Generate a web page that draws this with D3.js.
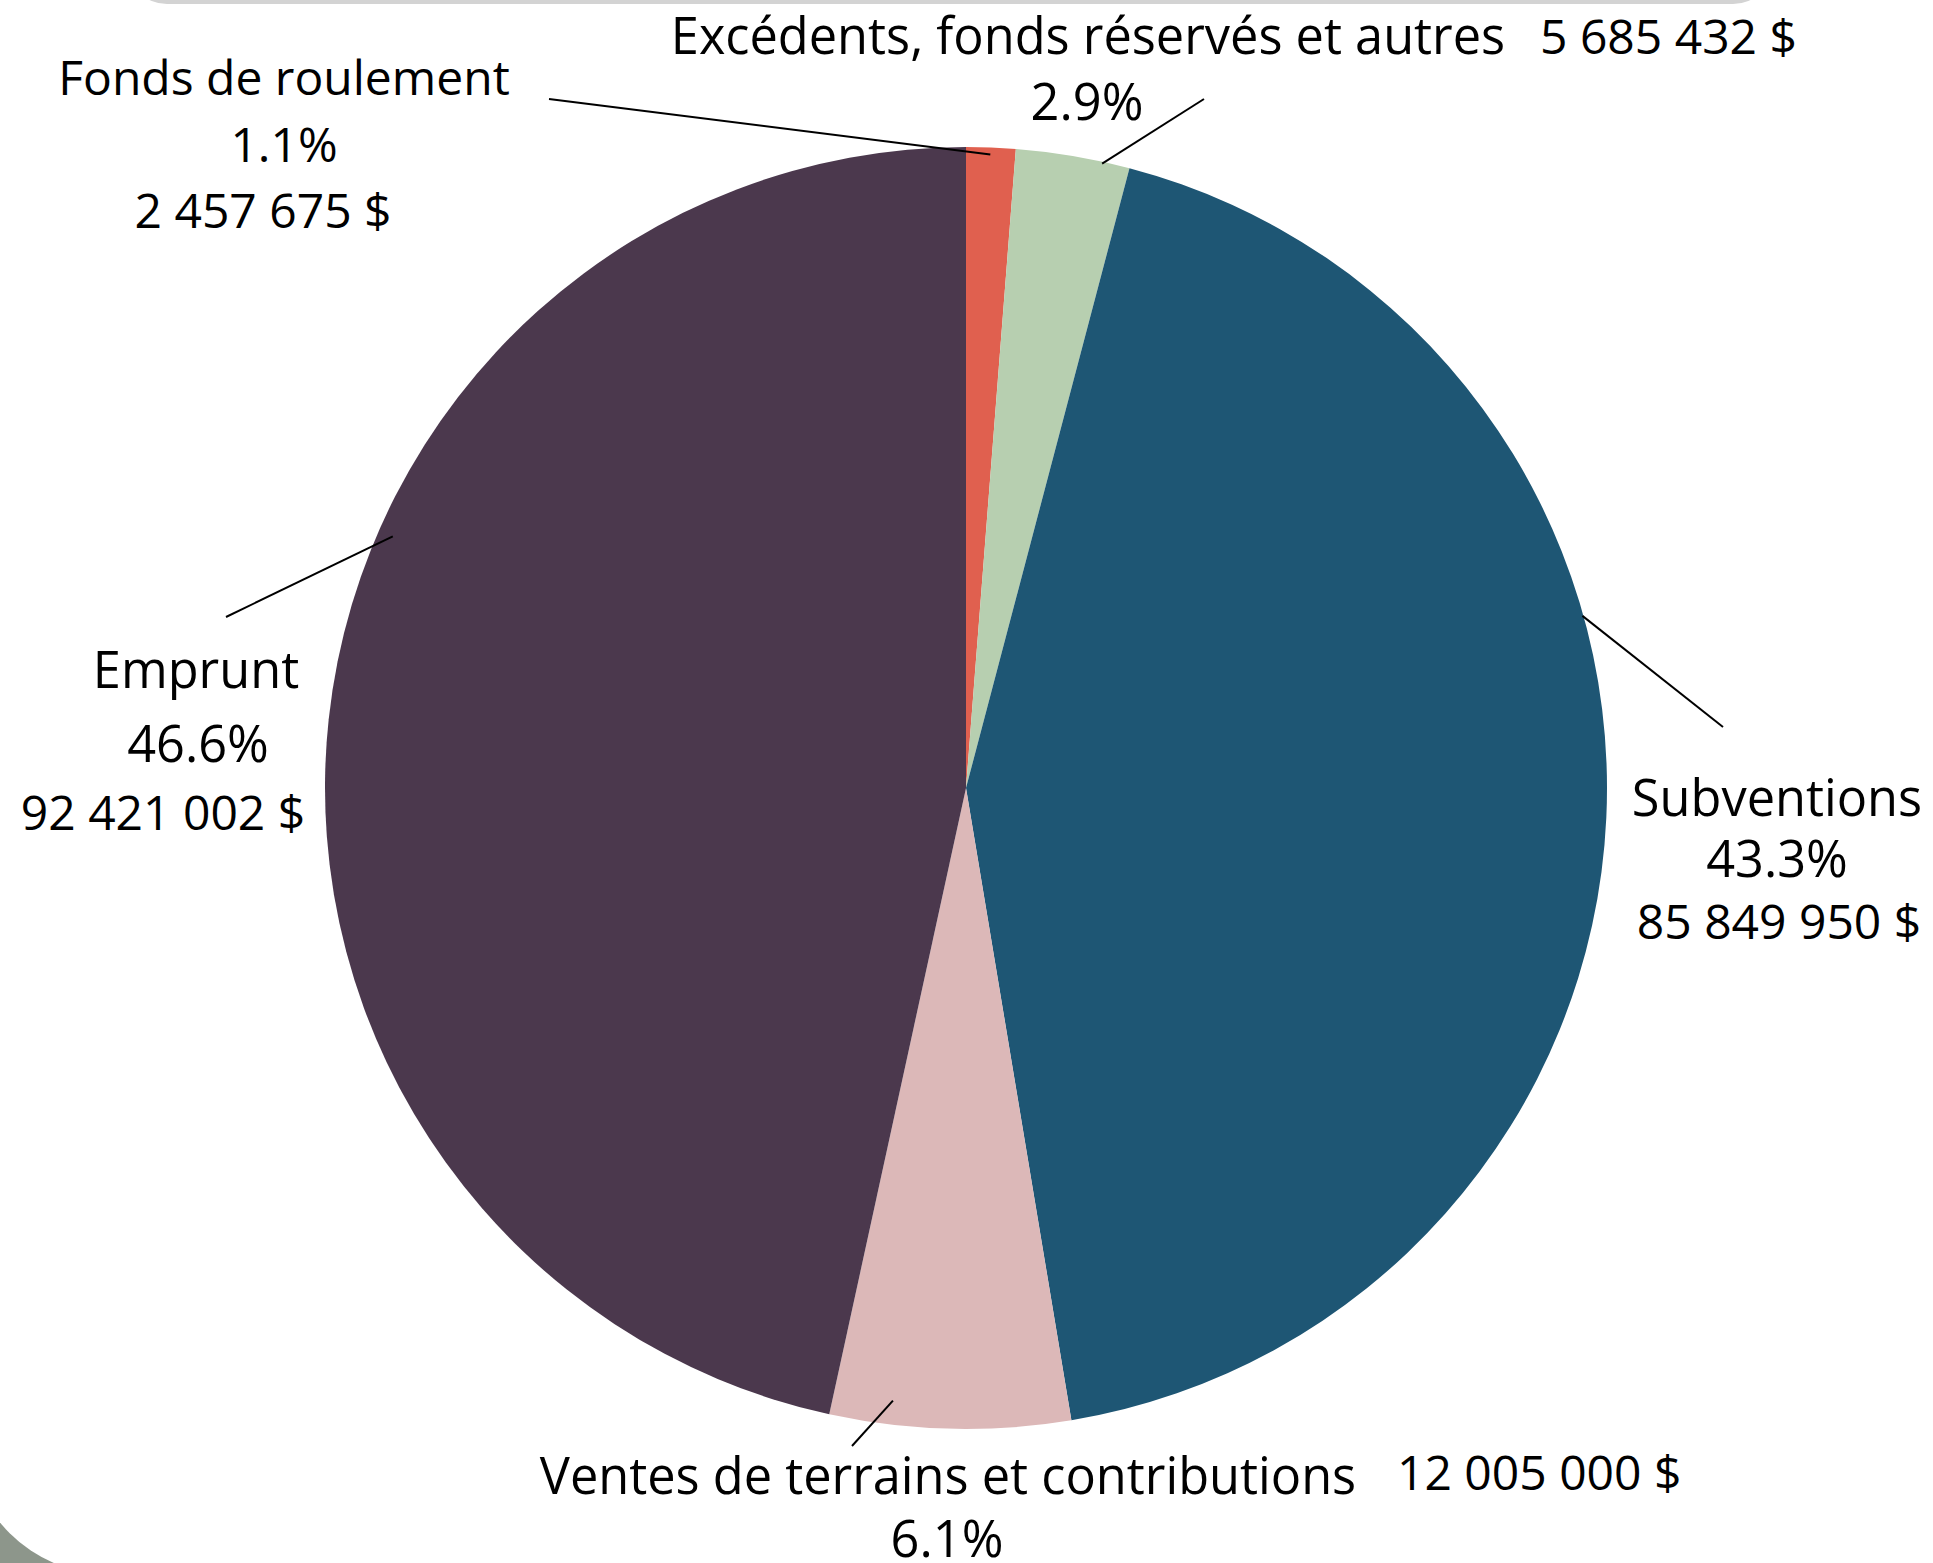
<!DOCTYPE html>
<html>
<head>
<meta charset="utf-8">
<script src="https://cdn.jsdelivr.net/npm/d3@7"></script>
<style>
  html, body { margin: 0; padding: 0; background: #8d968b; }
  svg { display: block; }
</style>
</head>
<body>
<div id="chart"></div>
<script>
// sources de financement (sens horaire depuis midi)
const categories = [
  "Fonds de roulement",
  "Excédents, fonds réservés et autres",
  "Subventions",
  "Ventes de terrains et contributions",
  "Emprunt"
];
const amounts = [2457675, 5685432, 85849950, 12005000, 92421002];
const pctLabels = ["1.1%", "2.9%", "43.3%", "6.1%", "46.6%"];
const colors = ["#e0604f", "#b7cfb0", "#1e5674", "#dcb8b8", "#4b384d"];

const width = 1933, height = 1563;
const cx = 966, cy = 788, radius = 641;

// placement des étiquettes (déplacées à la main comme dans l'original)
// name / pct / value : [x, y, anchor] ; leader : angle (deg), rayon, point extérieur
const labelLayout = [
  {size: 48, name: [284, 95, "middle"], pct: [284, 162, "middle"], value: [263, 228, "middle"],
   leader: {angle: 2.2, r: 634, to: [549, 99]}},
  {size: 50.5, name: [1088, 54, "middle"], pct: [1087, 120, "middle"], value: [1540, 54, "start"],
   leader: {angle: 12.3, r: 639, to: [1204, 99]}},
  {size: 50.5, name: [1777, 816, "middle"], pct: [1777, 877, "middle"], value: [1779, 939, "middle"],
   leader: {angle: 74.4, r: 640, to: [1723, 727]}},
  {size: 50.5, name: [948, 1494, "middle"], pct: [947, 1557, "middle"], value: [1397, 1490, "start"],
   leader: {angle: 186.8, r: 617, to: [852, 1446]}},
  {size: 50.5, name: [196, 688, "middle"], pct: [198, 762, "middle"], value: [163, 830, "middle"],
   leader: {angle: 293.7, r: 626, to: [226, 617]}}
];

const fr = d3.formatLocale({decimal: ",", thousands: " ", grouping: [3], currency: ["", " $"]});
const fmtMoney = fr.format("$,.0f");

const svg = d3.select("#chart")
  .append("svg")
  .attr("width", width)
  .attr("height", height);

// fond : carte blanche arrondie + bord gris en haut
svg.append("rect")
  .attr("x", -31).attr("y", -300)
  .attr("width", width + 300).attr("height", 1574 + 300)
  .attr("rx", 139).attr("ry", 139)
  .attr("fill", "#ffffff");

svg.append("rect")
  .attr("x", 127).attr("y", -200)
  .attr("width", 1646).attr("height", 204)
  .attr("rx", 40).attr("ry", 40)
  .attr("fill", "#d3d3d3");

const data = categories.map((c, i) => ({name: c, value: amounts[i], pct: pctLabels[i], color: colors[i]}));

const pie = d3.pie().sort(null).value(d => d.value);
const arc = d3.arc().innerRadius(0).outerRadius(radius);

const g = svg.append("g").attr("transform", `translate(${cx},${cy})`);

g.selectAll("path")
  .data(pie(data))
  .join("path")
  .attr("d", arc)
  .attr("fill", d => d.data.color);

// lignes de rappel
const leaders = svg.append("g");
labelLayout.forEach(l => {
  const p = d3.pointRadial(l.leader.angle * Math.PI / 180, l.leader.r);
  leaders.append("line")
    .attr("x1", cx + p[0]).attr("y1", cy + p[1])
    .attr("x2", l.leader.to[0]).attr("y2", l.leader.to[1])
    .attr("stroke", "#000")
    .attr("stroke-width", 2);
});

// étiquettes
const labels = svg.append("g")
  .attr("font-family", "'Open Sans', sans-serif")
  .attr("fill", "#000");

data.forEach((d, i) => {
  const l = labelLayout[i];
  [[l.name, d.name, l.size], [l.pct, d.pct, l.size], [l.value, fmtMoney(d.value), 48]].forEach(([pos, txt, fs]) => {
    labels.append("text")
      .attr("x", pos[0]).attr("y", pos[1])
      .attr("text-anchor", pos[2])
      .attr("font-size", fs)
      .text(txt);
  });
});
</script>
</body>
</html>
